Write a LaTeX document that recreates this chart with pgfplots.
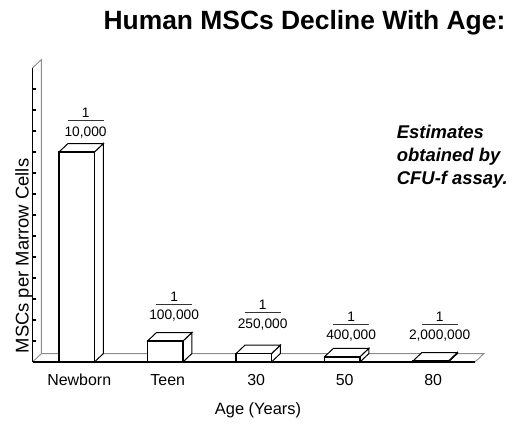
\documentclass[border=0pt]{standalone}
\usepackage{pgfplots}
\pgfplotsset{compat=1.18}
\usepackage{fontspec}
\setmainfont{Liberation Sans}

\newcommand{\frc}[1]{\vbox{\offinterlineskip\halign{\hfil##\hfil\cr 1\cr\noalign{\kern2.5bp}{\color{black!80}\rule{36bp}{1bp}}\cr\noalign{\kern5.2bp}#1\cr}}}

\begin{document}
\begin{tikzpicture}
\path[use as bounding box] (0,0) rectangle (514bp,425bp);
\begin{axis}[
  scale only axis, width=442.5bp, height=294bp,
  at={(32.5bp,63bp)}, anchor=south west,
  xmin=-0.5, xmax=4.5, ymin=0, ymax=140,
  axis x line*=bottom, axis y line*=left,
  axis line style={line width=1.8bp, black},
  xtick={0,1,2,3,4}, xticklabels={Newborn,Teen,30,50,80},
  x tick style={draw=none},
  ytick={10,20,...,130}, yticklabels={},
  y tick style={line width=1.4bp, black},
  tick align=inside, major tick length=4bp,
  xticklabel style={anchor=base, yshift=-23.7bp, xshift=2.5bp, font=\fontsize{16}{19}\selectfont},
  xlabel={Age (Years)},
  xlabel style={at={(axis description cs:0.5096,0)}, anchor=base, yshift=-52.3bp, font=\fontsize{16.5}{19}\selectfont},
  ylabel={MSCs per Marrow Cells},
  ylabel style={at={(axis description cs:-0.009,0.3605)}, anchor=base, font=\fontsize{18.5}{21}\selectfont},
  clip=false, axis on top,
]
% floor and back wall
\addplot[draw=black!45, line width=0.9bp] coordinates {(-0.5,0) (-0.4,4) (4.6,4) (4.5,0)};
\addplot[draw=black!45, line width=0.9bp] coordinates {(-0.4,4) (-0.4,144) (-0.5,140)};
% side faces
\addplot[fill=white, draw=black, line width=1bp] coordinates {(0.2,0) (0.3,4) (0.3,104) (0.2,100)} -- cycle;
\addplot[fill=white, draw=black, line width=1bp] coordinates {(1.2,0) (1.3,4) (1.3,14) (1.2,10)} -- cycle;
\addplot[fill=white, draw=black, line width=1bp] coordinates {(2.2,0) (2.3,4) (2.3,8) (2.2,4)} -- cycle;
\addplot[fill=white, draw=black, line width=1bp] coordinates {(3.2,0) (3.3,4) (3.3,6.5) (3.2,2.5)} -- cycle;
\addplot[fill=white, draw=black, line width=1bp] coordinates {(4.2,0) (4.3,4) (4.3,4.5) (4.2,0.5)} -- cycle;
% top faces
\addplot[fill=white, draw=black, line width=1bp] coordinates {(-0.2,100) (0.2,100) (0.3,104) (-0.1,104)} -- cycle;
\addplot[fill=white, draw=black, line width=1bp] coordinates {(0.8,10) (1.2,10) (1.3,14) (0.9,14)} -- cycle;
\addplot[fill=white, draw=black, line width=1bp] coordinates {(1.8,4) (2.2,4) (2.3,8) (1.9,8)} -- cycle;
\addplot[fill=white, draw=black, line width=1bp] coordinates {(2.8,2.5) (3.2,2.5) (3.3,6.5) (2.9,6.5)} -- cycle;
\addplot[fill=white, draw=black, line width=1bp] coordinates {(3.8,0.5) (4.2,0.5) (4.3,4.5) (3.9,4.5)} -- cycle;
% front faces (MSCs per million marrow cells)
\addplot[ybar, bar width=0.4, fill=white, draw=black, line width=1.6bp] coordinates {(0,100) (1,10) (2,4) (3,2.5) (4,0.5)};
% fraction labels
\node[anchor=north, inner sep=0, font=\fontsize{13.8}{16}\selectfont] at (axis cs:0.1,120.8) {\frc{10,000}};
\node[anchor=north, inner sep=0, font=\fontsize{13.8}{16}\selectfont] at (axis cs:1.1,33.5) {\frc{100,000}};
\node[anchor=north, inner sep=0, font=\fontsize{13.8}{16}\selectfont] at (axis cs:2.1,29.5) {\frc{250,000}};
\node[anchor=north, inner sep=0, font=\fontsize{13.8}{16}\selectfont] at (axis cs:3.1,24) {\frc{400,000}};
\node[anchor=north, inner sep=0, font=\fontsize{13.8}{16}\selectfont] at (axis cs:4.1,24) {\frc{2,000,000}};
\end{axis}
\node[anchor=base, font=\bfseries\fontsize{26.5}{30}\selectfont] at (304.5bp,395.7bp) {Human MSCs Decline With Age:};
\node[anchor=north west, align=left, inner sep=0, font=\bfseries\itshape\fontsize{18.5}{22.9}\selectfont] at (396.7bp,300bp) {Estimates\\obtained by\\CFU-f assay.};
\end{tikzpicture}
\end{document}
